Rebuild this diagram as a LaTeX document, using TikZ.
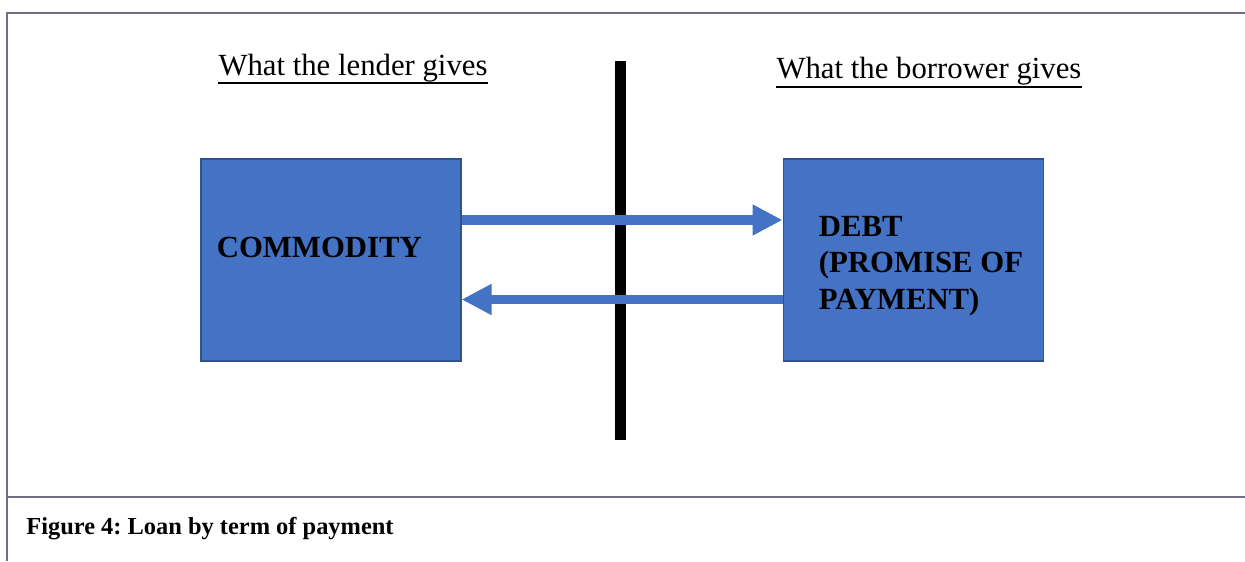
\documentclass[tikz,border=0pt]{standalone}
\usepackage{fontspec}
\setmainfont{Liberation Serif}
\usepackage{xcolor}
\usepackage{tikz}
\usetikzlibrary{
	arrows.meta,
	positioning
}
\definecolor{BoxBlue}{RGB}{68,114,196}
\definecolor{BoxEdge}{RGB}{47,82,143}
\definecolor{FrameGray}{RGB}{112,112,132}
\frenchspacing

\begin{document}
\begin{tikzpicture}[
		box/.style={draw=BoxEdge, line width=0.6pt, fill=BoxBlue, minimum width=5.2cm, minimum height=4.04cm, inner sep=0pt},
		boxtext/.style={inner sep=0pt, font=\fontsize{17.5}{20.8}\selectfont\bfseries, align=left},
		heading/.style={inner sep=0pt, font=\fontsize{17.5}{21}\selectfont},
		flow/.style={BoxBlue, line width=0.19cm, -{Triangle[length=0.6cm, width=0.58cm]}}
	]
		\useasboundingbox (0,0) rectangle (24.9,11.22);
		
		% frame and caption strip
		\draw[FrameGray, line width=1.2pt] (24.9,10.96) -- (0.14,10.96) -- (0.14,0);
		\draw[FrameGray, line width=1.2pt] (0.14,1.28) -- (24.9,1.28);
		\node[inner sep=0pt, anchor=base west, font=\fontsize{13.9}{16}\selectfont\bfseries] (caption) at (0.52,0.54) {Figure 4: Loan by term of payment};
		
		% headings
		\node[heading, anchor=base] (lender) at (7.06,9.70) {What the lender gives};
		\node[heading, anchor=base] (borrower) at (18.58,9.64) {What the borrower gives};
		\draw[line width=1pt] ([yshift=-0.14cm]lender.base west) -- ([yshift=-0.14cm]lender.base east);
		\draw[line width=1pt] ([yshift=-0.16cm]borrower.base west) -- ([yshift=-0.16cm]borrower.base east);
		
		% dividing bar
		\coordinate (divtop) at (12.41,10.0);
		\coordinate (divbot) at (12.41,2.42);
		\draw[line width=0.22cm] (divtop) -- (divbot);
		
		% boxes
		\node[box] (commodity) at (6.62,6.02) {};
		\node[box, right=6.42cm of commodity] (debt) {};
		\node[boxtext, anchor=base west] (commoditytext) at ([xshift=0.32cm, yshift=0.04cm]commodity.west) {COMMODITY};
		\node[boxtext, anchor=west] (debttext) at ([xshift=0.72cm, yshift=-0.12cm]debt.west) {DEBT\\(PROMISE OF\\PAYMENT)};
		
		% exchange
		\draw[flow] ([yshift=0.8cm]commodity.east) -- ([yshift=0.8cm]debt.west);
		\draw[flow] ([yshift=-0.79cm]debt.west) -- ([yshift=-0.79cm]commodity.east);
	\end{tikzpicture}
\end{document}
